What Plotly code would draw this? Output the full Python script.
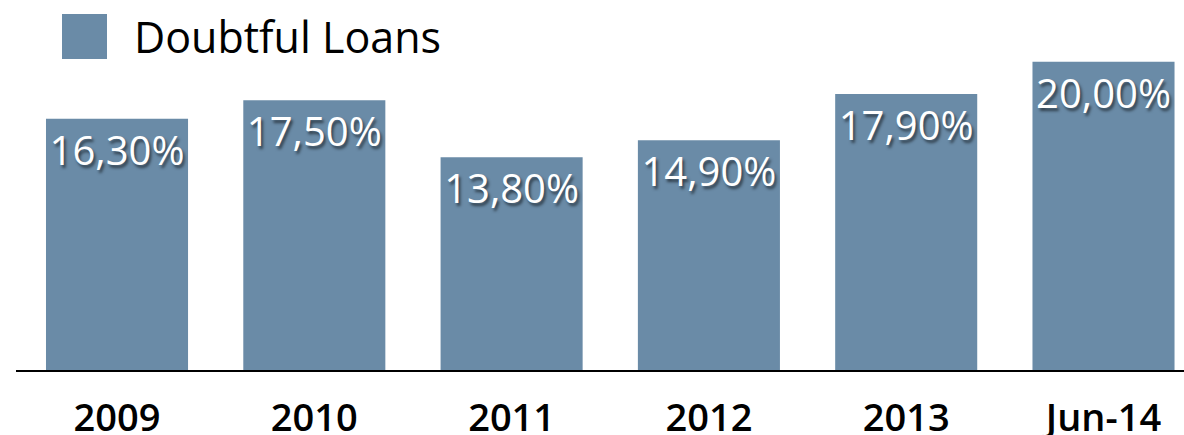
import plotly.graph_objects as go

categories = ["2009", "2010", "2011", "2012", "2013", "Jun-14"]
values = [16.3, 17.5, 13.8, 14.9, 17.9, 20.0]
labels = ["16,30%", "17,50%", "13,80%", "14,90%", "17,90%", "20,00%"]
series_name = "Doubtful Loans"

BAR = "#6a8ba7"
FONT = "Open Sans"

W, H = 1184, 435
ML, MB = 16, 65
pw, ph = W - ML, H - MB

def px2paper_x(px):
    return (px - ML) / pw

def px2paper_y(py):
    return (ph - py) / ph

fig = go.Figure()
fig.add_trace(go.Bar(
    x=list(range(len(categories))),
    y=values,
    name=series_name,
    text=labels,
    textposition="inside",
    insidetextanchor="end",
    constraintext="none",
    textangle=0,
    marker=dict(color=BAR, line=dict(width=0)),
    textfont=dict(family=FONT, size=40, color="white",
                  shadow="2px 3px 3px rgba(0,0,0,0.55)"),
    showlegend=False,
    hoverinfo="skip",
))

fig.update_layout(
    width=W, height=H,
    margin=dict(l=ML, r=0, t=0, b=MB),
    paper_bgcolor="white", plot_bgcolor="white",
    bargap=0.28,
    xaxis=dict(
        range=[-0.512, 5.408],
        automargin=False,
        tickmode="array",
        tickvals=list(range(len(categories))),
        ticktext=categories,
        tickfont=dict(family=FONT, size=38, color="black", weight=600),
        showline=True, linecolor="black", linewidth=2,
        showgrid=False, zeroline=False,
        ticks="outside", ticklen=13, tickcolor="rgba(0,0,0,0)",
    ),
    yaxis=dict(range=[0, 24], visible=False, showgrid=False, zeroline=False,
               automargin=False),
    shapes=[dict(
        type="rect", xref="paper", yref="paper",
        x0=px2paper_x(62), x1=px2paper_x(107),
        y0=px2paper_y(59), y1=px2paper_y(14),
        fillcolor=BAR, line=dict(width=0),
    )],
    annotations=[dict(
        xref="paper", yref="paper",
        x=px2paper_x(132), y=px2paper_y(37),
        xanchor="left", yanchor="middle",
        text=series_name, showarrow=False,
        font=dict(family=FONT, size=43, color="black"),
    )],
)

fig.write_html("out.html")
